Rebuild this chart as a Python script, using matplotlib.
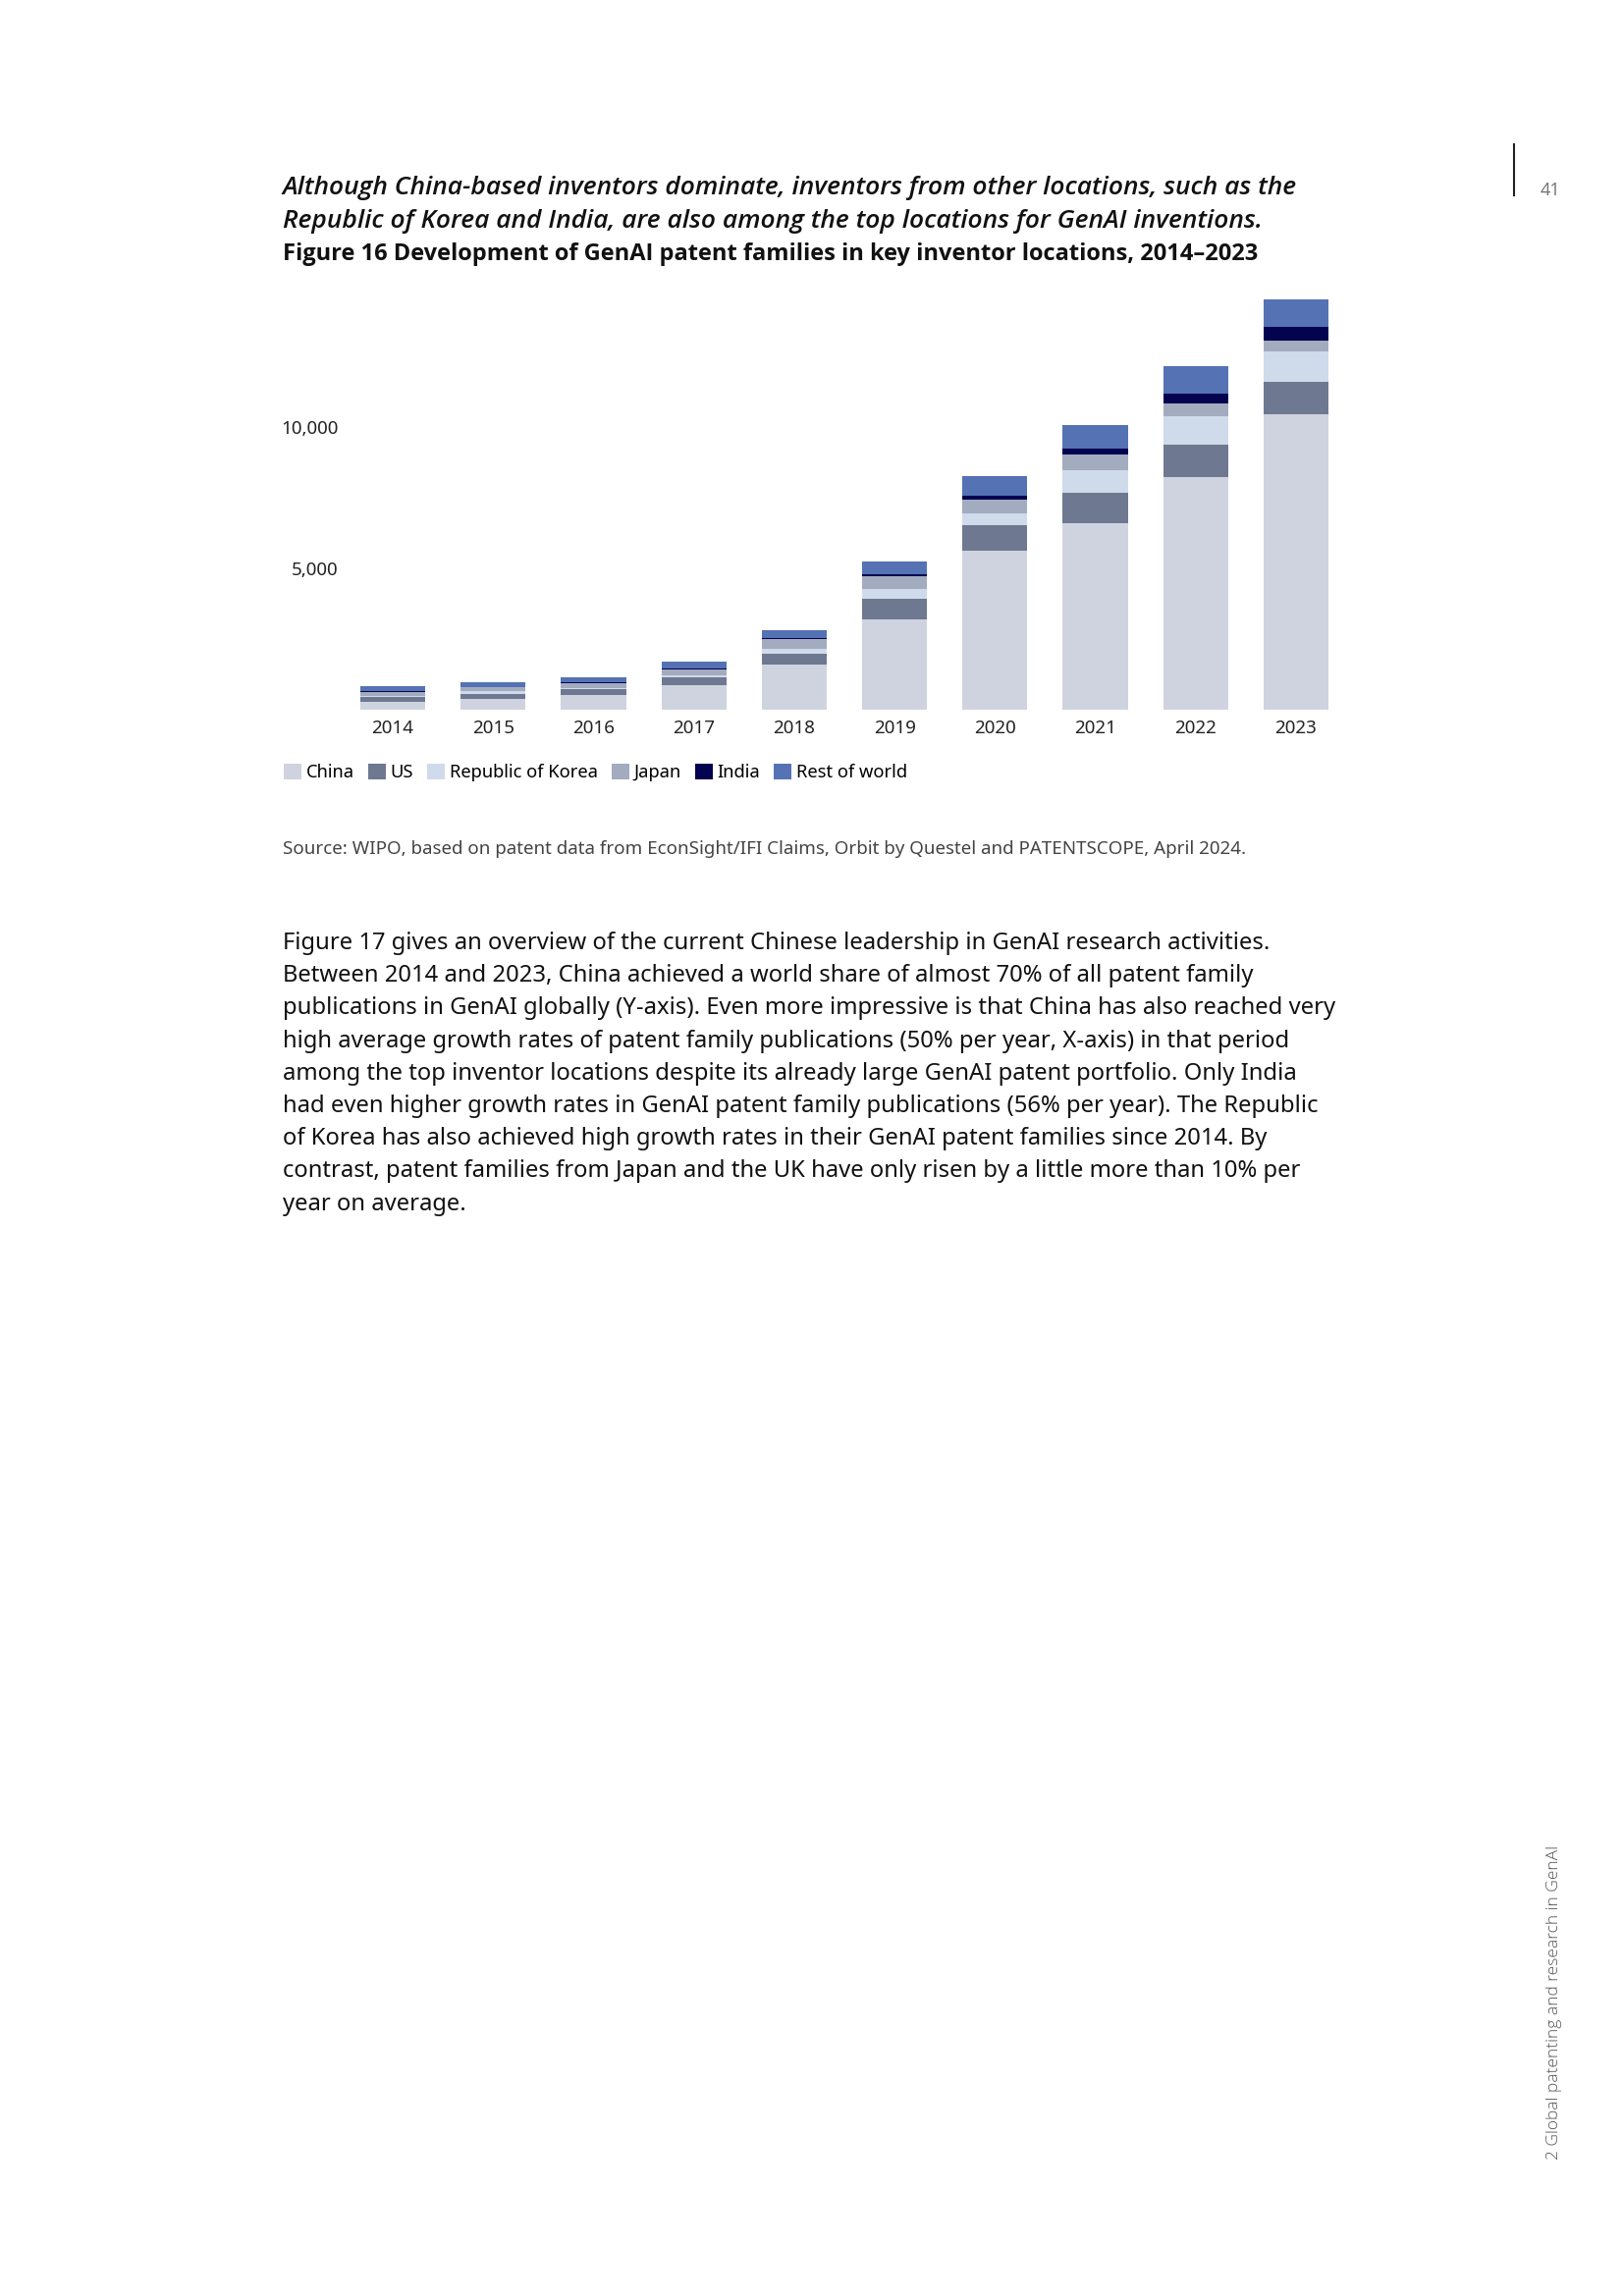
import matplotlib
matplotlib.use("Agg")
import matplotlib.pyplot as plt
import numpy as np

plt.rcParams['font.family'] = ['Noto Sans', 'DejaVu Sans']

# values (patent families)
years = ['2014', '2015', '2016', '2017', '2018', '2019', '2020', '2021', '2022', '2023']
china = [266, 370, 509, 856, 1585, 3193, 5611, 6583, 8215, 10436]
us = [174, 174, 220, 278, 382, 717, 902, 1076, 1145, 1145]
korea = [35, 104, 46, 69, 174, 359, 417, 798, 1007, 1076]
japan = [162, 139, 162, 220, 359, 440, 486, 555, 451, 382]
india = [23, 23, 23, 35, 35, 69, 139, 208, 370, 486]
rest = [162, 150, 174, 231, 266, 451, 694, 833, 949, 972]

series = [
    ('China', china, '#cfd3df'),
    ('US', us, '#6e7890'),
    ('Republic of Korea', korea, '#cfdaea'),
    ('Japan', japan, '#a3abbf'),
    ('India', india, '#03034f'),
    ('Rest of world', rest, '#5472b4'),
]

body = [
    "Figure 17 gives an overview of the current Chinese leadership in GenAI research activities.",
    "Between 2014 and 2023, China achieved a world share of almost 70% of all patent family",
    "publications in GenAI globally (Y-axis). Even more impressive is that China has also reached very",
    "high average growth rates of patent family publications (50% per year, X-axis) in that period",
    "among the top inventor locations despite its already large GenAI patent portfolio. Only India",
    "had even higher growth rates in GenAI patent family publications (56% per year). The Republic",
    "of Korea has also achieved high growth rates in their GenAI patent families since 2014. By",
    "contrast, patent families from Japan and the UK have only risen by a little more than 10% per",
    "year on average.",
]

W, H = 1653, 2339
fig = plt.figure(figsize=(W / 100, H / 100), dpi=100)

def fx(px):
    return px / W

def fy(py):
    return 1 - py / H

ax = fig.add_axes([fx(349), fy(723), fx(1371) - fx(349), fy(291) - fy(723)])

x = np.arange(len(years))
bottom = np.zeros(len(years))
handles = []
for name, vals, col in series:
    b = ax.bar(x, vals, width=0.646, bottom=bottom, color=col, label=name)
    handles.append(b)
    bottom += np.array(vals)

ax.set_xlim(-0.5, len(years) - 0.5)
ax.set_ylim(0, 15000)
ax.set_yticks([5000, 10000])
ax.set_yticklabels(['5,000', '10,000'])
ax.set_xticks(x)
ax.set_xticklabels(years)
ax.tick_params(length=0, labelsize=13.5, colors='#222222')
ax.tick_params(axis='x', pad=7)
ax.tick_params(axis='y', pad=3)
for s in ax.spines.values():
    s.set_visible(False)

fig.legend(handles=handles, loc='center left', bbox_to_anchor=(fx(289), fy(787)),
           ncol=6, frameon=False, fontsize=13.2, handlelength=1.0, handleheight=1.0,
           handletextpad=0.25, columnspacing=0.75, borderaxespad=0, borderpad=0)

# headings
head = dict(fontsize=19, fontstyle='italic', fontweight='semibold', va='center',
            color='#111111', family=['Open Sans', 'DejaVu Sans'])
fig.text(fx(288), fy(192), "Although China-based inventors dominate, inventors from other locations, such as the", **head)
fig.text(fx(288), fy(225), "Republic of Korea and India, are also among the top locations for GenAI inventions.", **head)
fig.text(fx(288), fy(259), "Figure 16 Development of GenAI patent families in key inventor locations, 2014\u20132023",
         fontsize=17, fontweight='bold', va='center', color='#111111', family=['Open Sans', 'DejaVu Sans'])

fig.text(fx(288), fy(865), "Source: WIPO, based on patent data from EconSight/IFI Claims, Orbit by Questel and PATENTSCOPE, April 2024.",
         fontsize=13.5, va='center', color='#444444')

for i, line in enumerate(body):
    fig.text(fx(288), fy(961 + i * 33.2), line, fontsize=17.15, va='center', color='#111111')

# page furniture
fig.add_artist(plt.Line2D([fx(1542), fx(1542)], [fy(147), fy(199)], color='#222222', lw=1.5))
fig.text(fx(1569), fy(194), "41", fontsize=13, color='#777777', va='center')
fig.text(fx(1583), fy(2200), "2 Global patenting and research in GenAI", fontsize=12.5, color='#555555',
         rotation=90, ha='center', va='bottom', family=['Open Sans', 'DejaVu Sans'], fontweight='light')

fig.savefig('out.png', dpi=100)
